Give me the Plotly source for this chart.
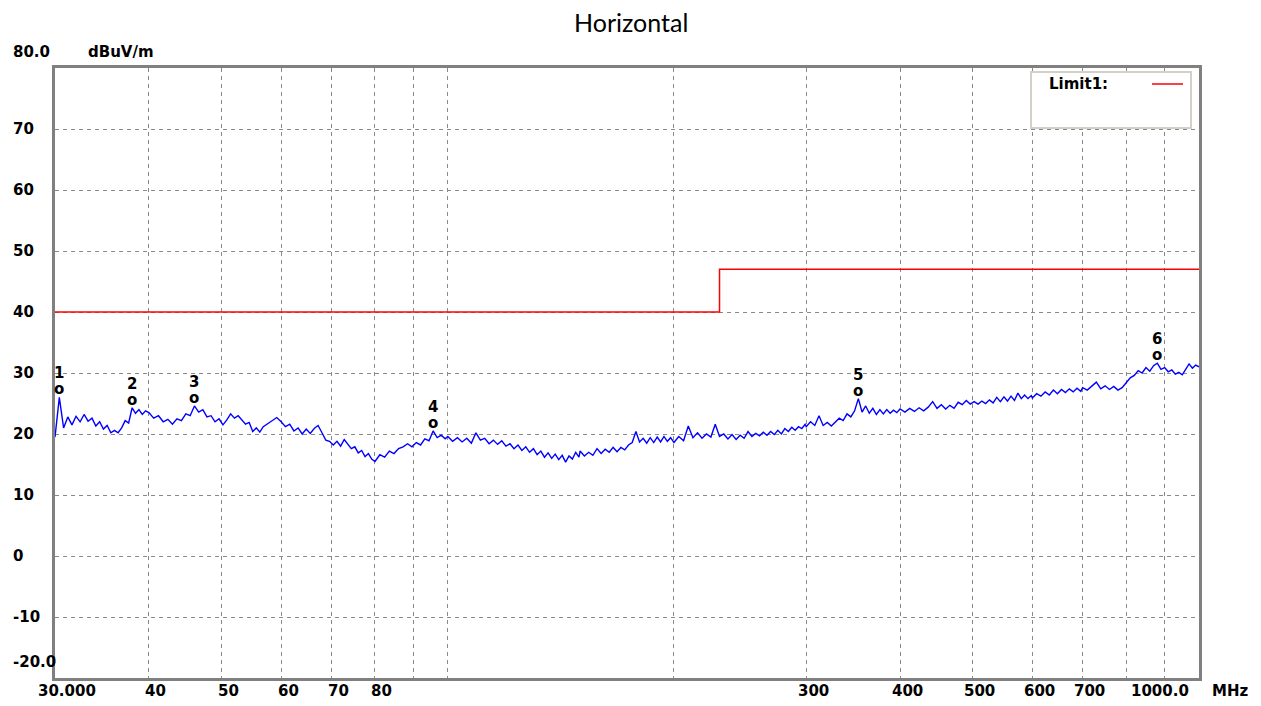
import numpy as np
import plotly.graph_objects as go

title_text = "Horizontal"
y_unit = "dBuV/m"
x_unit = "MHz"

freq_mhz = [
    30.0, 30.4, 30.8, 31.2, 31.6, 32.0, 32.4, 32.8, 33.2, 33.6, 34.0, 34.4, 34.8,
    35.2, 35.6, 36.0, 36.4, 36.8, 37.2, 37.6, 38.0, 38.4, 38.8, 39.2, 39.6,
    40.0, 40.6, 41.2, 41.8, 42.4, 43.0, 43.6, 44.2, 44.8, 45.4, 46.0, 46.6, 47.2,
    47.8, 48.4, 49.0, 49.6, 50.2, 50.8, 51.4, 52.0, 52.6, 53.2, 53.8, 54.4, 55.0,
    55.6, 56.2, 56.8, 57.4, 58.0, 58.6, 59.2,
    60.0, 60.8, 61.6, 62.4, 63.2, 64.0, 64.8, 65.6, 66.4, 67.2, 68.0, 68.8, 69.6,
    70.4, 71.2, 72.0, 72.8, 73.6, 74.4, 75.2, 76.0, 76.8, 77.6, 78.4, 79.2,
    80.0, 81.2, 82.4, 83.6, 84.8, 86.0, 87.2, 88.4, 89.6, 90.8, 92.0, 93.2, 94.4,
    95.6, 96.8, 98.0, 99.2,
    100.0, 101.5, 103.0, 104.5, 106.0, 107.5, 109.0, 110.5, 112.0, 113.5, 115.0,
    116.5, 118.0, 119.5, 121.0, 122.5, 124.0, 125.5, 127.0, 128.5, 130.0, 131.5,
    133.0, 134.5, 136.0, 137.5, 139.0, 140.5, 142.0, 143.5, 145.0, 146.5, 148.0, 149.5,
    150, 152, 154, 156, 158, 160, 162, 164, 166, 168, 170, 172, 174, 176, 178, 180,
    182, 184, 186, 188, 190, 192, 194, 196, 198,
    200, 203, 206, 209, 212, 215, 218, 221, 224, 227, 230, 233, 236, 239, 242, 245,
    248, 251, 254, 257, 260, 263, 266, 269, 272, 275, 278, 281, 284, 287, 290, 293,
    296, 299,
    300, 304, 308, 312, 316, 320, 324, 328, 332, 336, 340, 344, 348, 352, 356, 360,
    364, 368, 372, 376, 380, 384, 388, 392, 396,
    400, 406, 412, 418, 424, 430, 436, 442, 448, 454, 460, 466, 472, 478, 484, 490,
    496, 502, 508, 514, 520, 526, 532, 538, 544, 550, 556, 562, 568, 574, 580, 586,
    592, 598,
    600, 608, 616, 624, 632, 640, 648, 656, 664, 672, 680, 688, 696,
    700, 710, 720, 730, 740, 750, 760, 770, 780, 790, 800, 810, 820, 830, 840, 850,
    860, 870, 880, 890, 900, 910, 920, 930, 940, 950, 960, 970, 980, 990, 1000,
]
level_dbuv = [
    19.5, 26.0, 21.0, 22.8, 21.5, 22.9, 22.0, 23.2, 22.1, 22.6, 21.3, 22.0, 20.8,
    21.4, 20.2, 20.6, 20.2, 21.0, 22.2, 21.8, 24.3, 23.4, 24.0, 23.2, 23.8,
    23.5, 22.6, 23.0, 22.0, 22.4, 21.6, 22.5, 22.2, 23.3, 23.0, 24.6, 23.6, 24.0,
    22.8, 23.0, 22.0, 22.5, 21.5, 22.3, 23.3, 22.6, 23.0, 22.2, 21.6, 21.9, 20.4,
    21.0, 20.3, 21.2, 21.6, 22.0, 22.3, 22.7,
    22.0, 21.2, 21.6, 20.5, 21.0, 20.0, 20.8, 20.1, 20.9, 21.4, 20.2, 19.0, 18.8,
    18.2, 18.8, 18.0, 19.1, 18.3, 17.6, 17.9, 16.9, 17.3, 16.3, 16.8, 15.9,
    15.5, 16.6, 16.2, 17.2, 16.8, 17.6, 17.9, 18.4, 17.9, 18.6, 18.2, 19.2, 18.9,
    20.5, 19.4, 19.8, 19.2,
    19.6, 18.8, 19.4, 18.7, 19.3, 18.5, 20.2, 19.0, 19.3, 18.4, 19.0,
    18.3, 18.9, 18.0, 18.4, 17.6, 18.2, 17.3, 17.9, 17.0, 17.6, 16.6,
    17.2, 16.2, 16.9, 16.0, 16.7, 15.8, 16.5, 15.4, 16.4, 15.9, 17.0, 16.2,
    17.2, 16.4, 17.0, 16.5, 17.6, 16.8, 17.5, 17.0, 17.8, 17.1, 17.8, 17.4, 18.2,
    18.6, 20.4, 18.7, 19.3, 18.5, 19.4, 18.6, 19.5, 18.7, 19.6, 18.8, 19.4,
    18.6, 19.6, 18.9, 21.3, 19.4, 20.2, 19.3, 20.0, 19.5, 21.6, 19.6, 20.0, 19.2,
    19.9, 19.1, 19.8, 19.3, 20.4, 19.6, 20.1, 19.7, 20.3, 19.8, 20.4, 19.9, 20.6,
    20.0, 20.9, 20.4, 21.1, 20.6, 21.2, 20.9, 21.6,
    21.2, 22.0, 21.4, 23.0, 21.4, 21.9, 21.3, 22.0, 22.6, 22.2, 23.3, 22.8, 23.8,
    25.8, 23.6, 24.6, 23.4, 24.2, 23.2, 24.0, 23.3, 24.0, 23.4, 23.9, 23.5,
    24.1, 23.6, 24.2, 23.7, 24.3, 23.8, 24.4, 25.3, 24.2, 24.8, 24.1, 24.7, 24.2,
    25.2, 24.8, 25.5, 24.9, 25.3, 24.9, 25.4, 25.0, 25.6, 25.1, 26.0, 25.3, 26.1,
    25.4, 26.2, 25.5, 26.7, 25.8, 26.4, 25.8, 26.3,
    25.9, 26.6, 26.2, 26.9, 26.4, 27.2, 26.6, 27.3, 26.8, 27.4, 26.9, 27.5, 27.0,
    27.6, 27.2, 27.8, 28.5, 27.4, 27.9, 27.3, 27.8, 27.2, 27.6, 28.4, 29.2, 29.6,
    30.4, 30.0, 30.9, 30.3, 31.2, 31.6, 30.6, 30.9, 30.2, 30.5, 29.8, 30.1, 29.7,
    30.6, 31.5, 30.8, 31.3, 31.0,
]

limit_name = "Limit1"
limit_freq = [30, 230, 1000]
limit_level = [40, 47, 47]

marker_id = ["1", "2", "3", "4", "5", "6"]
marker_freq = [30.4, 38.0, 46.0, 95.6, 352, 880]
marker_level = [26.0, 24.3, 24.6, 20.5, 25.8, 31.6]

x_grid = [40, 50, 60, 70, 80, 90, 100, 200, 300, 400, 500, 600, 700, 800, 900]
x_tick_vals = [30, 40, 50, 60, 70, 80, 300, 400, 500, 600, 700, 1000]
x_tick_text = ["30.000", "40", "50", "60", "70", "80", "300", "400", "500",
               "600", "700", "1000.0"]
y_grid = [70, 60, 50, 40, 30, 20, 10, 0, -10]
y_tick_vals = [80, 70, 60, 50, 40, 30, 20, 10, 0, -10, -20]
y_tick_text = ["80.0", "70", "60", "50", "40", "30", "20", "10", "0", "-10", "-20.0"]

# page offset of the figure (default body margin) and target page geometry
OFF = 8
PAGE_W, PAGE_H = 1261, 706
P_L, P_R, P_T, P_B = 55, 1199, 68, 678   # plot area on page
W, H = PAGE_W - OFF, PAGE_H - OFF
ML, MT = P_L - OFF, P_T - OFF
MR, MB = W - (P_R - OFF), H - (P_B - OFF)
PW, PH = P_R - P_L, P_B - P_T


def px(xpage):
    return (xpage - P_L) / PW


def py(ypage):
    return (P_B - ypage) / PH


lab_font = dict(family="DejaVu Sans", size=15, color="black", weight="bold")
grid_col = "#8a8a8a"
frame_col = "#808080"

fig = go.Figure()
fig.add_trace(go.Scatter(x=limit_freq, y=limit_level, mode="lines", name=limit_name,
                         line=dict(color="#ff0000", width=1.5, shape="hv"),
                         showlegend=False, hoverinfo="skip"))
fig.add_trace(go.Scatter(x=freq_mhz, y=level_dbuv, mode="lines", name="Horizontal",
                         line=dict(color="#0000ff", width=1.4),
                         showlegend=False))

ann = []
for v, t in zip(x_tick_vals, x_tick_text):
    if v == x_tick_vals[0]:
        xa, xs = "center", 12
    elif v == x_tick_vals[-1]:
        xa, xs = "right", -8
    else:
        xa, xs = "center", 7
    ann.append(dict(x=np.log10(v), xref="x", y=0, yref="paper", text=t,
                    showarrow=False, xanchor=xa, yanchor="middle", xshift=xs,
                    yshift=-13, font=lab_font))
ann.append(dict(x=px(1230), xref="paper", y=0, yref="paper", text=x_unit,
                showarrow=False, xanchor="center", yanchor="middle", yshift=-13,
                font=lab_font))
for v, t in zip(y_tick_vals, y_tick_text):
    ys = 16 if v in (y_tick_vals[0], y_tick_vals[-1]) else 0
    ann.append(dict(x=px(11), xref="paper", y=v, yref="y", text=t,
                    showarrow=False, xanchor="left", yanchor="middle", yshift=ys,
                    font=lab_font))
ann.append(dict(x=px(86), xref="paper", y=1, yref="paper", text=y_unit,
                showarrow=False, xanchor="left", yanchor="middle", yshift=16,
                font=lab_font))
for mid, f, lv in zip(marker_id, marker_freq, marker_level):
    ann.append(dict(x=np.log10(f), xref="x", y=lv, yref="y", text="o",
                    showarrow=False, xanchor="center", yanchor="middle", yshift=8,
                    font=lab_font))
    ann.append(dict(x=np.log10(f), xref="x", y=lv, yref="y", text=mid,
                    showarrow=False, xanchor="center", yanchor="middle", yshift=24,
                    font=lab_font))

# legend box
ly = py(84)
shapes = [
    dict(type="rect", xref="paper", yref="paper", x0=px(1031), x1=px(1191),
         y0=py(128), y1=py(72), fillcolor="white",
         line=dict(color="#d4d0c8", width=2), layer="above"),
    dict(type="line", xref="paper", yref="paper", x0=px(1152), x1=px(1183),
         y0=ly, y1=ly, line=dict(color="#ff0000", width=1.5), layer="above"),
]
ann.append(dict(x=px(1047), xref="paper", y=ly, yref="paper",
                text=limit_name + ":", showarrow=False, xanchor="left",
                yanchor="middle", font=lab_font))

# title as an annotation centred at page (631, 22)
ann.append(dict(x=px(631), xref="paper", y=1, yref="paper",
                yshift=(P_T - 22), text=title_text, showarrow=False,
                xanchor="center", yanchor="middle",
                font=dict(family="Lato", size=25, color="black")))

fig.update_layout(
    width=W, height=H,
    margin=dict(l=ML, r=MR, t=MT, b=MB, autoexpand=False),
    paper_bgcolor="white", plot_bgcolor="white",
    annotations=ann, shapes=shapes,
    xaxis=dict(type="log", range=[np.log10(30), np.log10(1000)],
               tickmode="array", tickvals=x_grid, showticklabels=False, ticks="",
               showgrid=True, gridcolor=grid_col, gridwidth=1, griddash="4px,4px",
               showline=True, linecolor=frame_col, linewidth=3, mirror=True),
    yaxis=dict(range=[-20, 80], tickmode="array", tickvals=y_grid,
               showticklabels=False, ticks="", zeroline=False,
               showgrid=True, gridcolor=grid_col, gridwidth=1, griddash="4px,4px",
               showline=True, linecolor=frame_col, linewidth=3, mirror=True),
    showlegend=False,
)

fig.write_html("out.html")
